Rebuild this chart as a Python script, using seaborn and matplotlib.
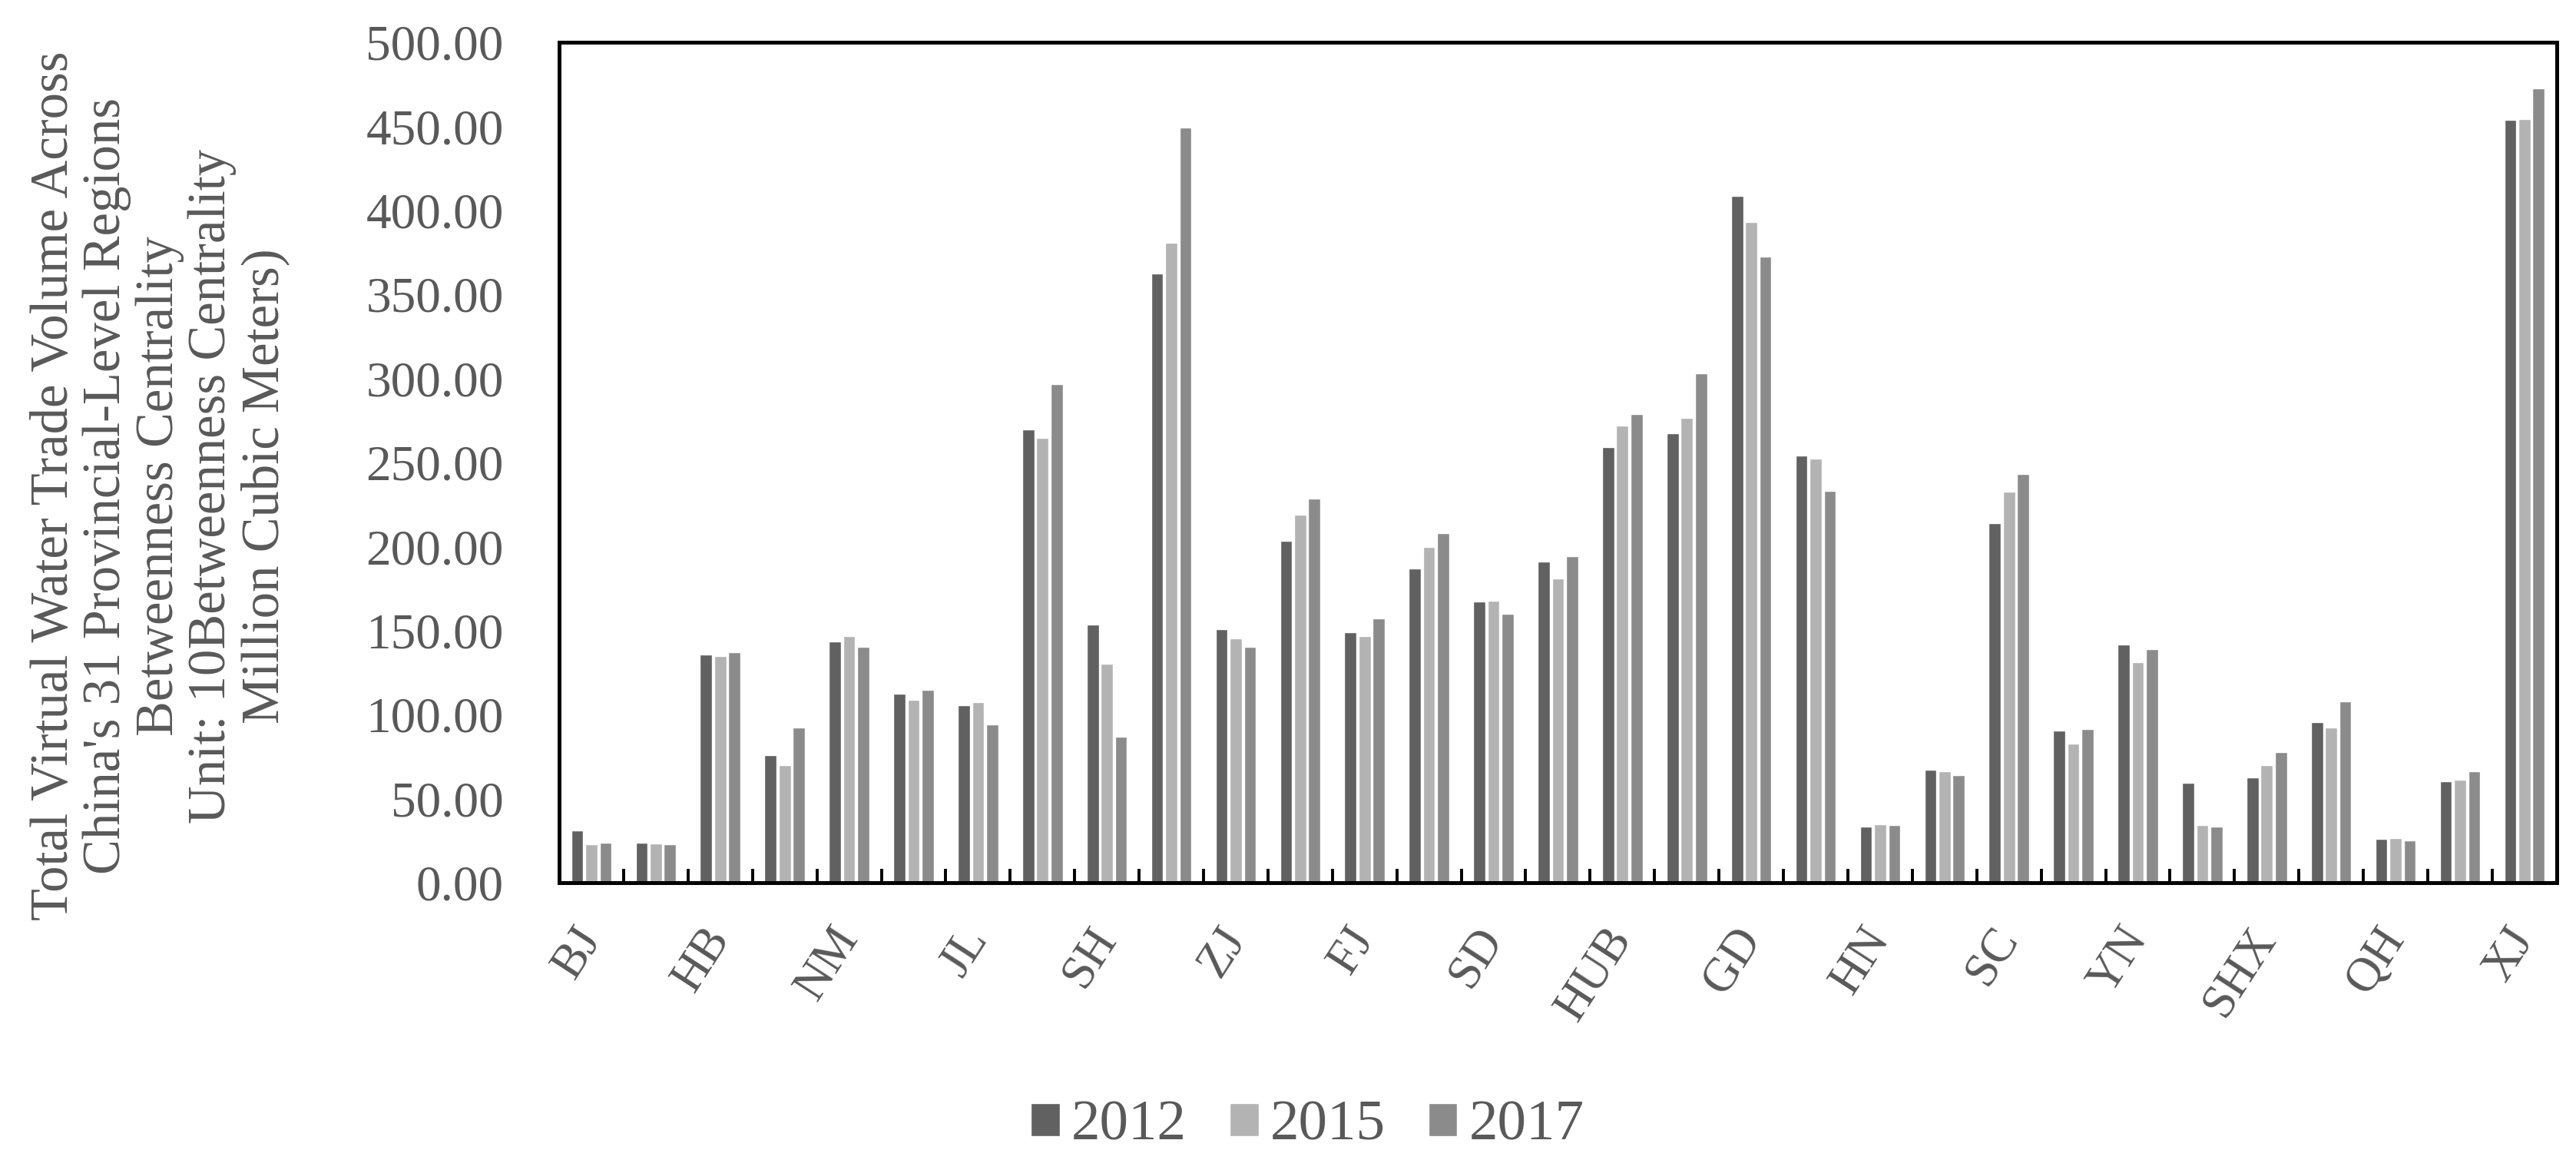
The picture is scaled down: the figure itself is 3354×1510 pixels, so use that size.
import numpy as np
import pandas as pd
import seaborn as sns
import matplotlib.pyplot as plt
from matplotlib.ticker import FixedLocator, FormatStrFormatter

# 31 provincial-level regions (only every other one is labelled on the axis)
regions = ['BJ', 'TJ', 'HB', 'SX', 'NM', 'LN', 'JL', 'HLJ', 'SH', 'JS',
           'ZJ', 'AH', 'FJ', 'JX', 'SD', 'HEN', 'HUB', 'HUN', 'GD', 'GX',
           'HN', 'CQ', 'SC', 'GZ', 'YN', 'XZ', 'SHX', 'GS', 'QH', 'NX', 'XJ']
years = ['2012', '2015', '2017']

vals_2012 = [31.2, 23.8, 135.9, 76.0, 143.6, 112.4, 105.7, 269.6, 153.4, 362.4,
             150.9, 203.4, 148.8, 187.0, 167.4, 190.8, 259.1, 267.2, 408.6, 254.2,
             33.3, 67.2, 213.9, 90.7, 141.5, 59.2, 62.7, 95.6, 25.9, 60.2, 453.8]
vals_2015 = [22.8, 23.5, 134.8, 70.0, 146.7, 108.9, 107.5, 264.4, 130.3, 380.6,
             145.3, 218.8, 146.7, 199.6, 167.7, 181.0, 271.7, 276.3, 392.9, 252.1,
             34.7, 66.2, 232.8, 82.6, 131.0, 34.3, 70.0, 92.4, 26.6, 61.3, 454.1]
vals_2017 = [23.8, 22.8, 137.3, 92.1, 140.4, 114.8, 94.2, 296.6, 86.8, 449.2,
             140.4, 228.3, 157.2, 208.0, 160.0, 194.0, 278.7, 302.9, 372.5, 233.2,
             34.3, 64.1, 243.0, 91.4, 139.0, 33.3, 77.7, 107.8, 24.9, 66.2, 472.7]

tick_labels = [r if i % 2 == 0 else '' for i, r in enumerate(regions)]
y_ticks = [0, 50, 100, 150, 200, 250, 300, 350, 400, 450, 500]

colors = ['#616161', '#b3b3b3', '#8b8b8b']
text_color = '#595959'

df = pd.DataFrame({
    'region': regions * 3,
    'year': [y for y in years for _ in regions],
    'value': vals_2012 + vals_2015 + vals_2017,
})

sns.set_style('white')
plt.rcParams['font.family'] = ['Liberation Serif', 'DejaVu Serif']

fig = plt.figure(figsize=(33.55, 15.1), dpi=100)
ax = fig.add_axes([0.2170, 0.2391, 0.7752, 0.7245])

sns.barplot(data=df, x='region', y='value', hue='year', order=regions,
            hue_order=years, palette=colors, width=0.66, gap=0.15,
            saturation=1, ax=ax)

ax.set_xlim(-0.5, len(regions) - 0.5)
ax.set_ylim(0, 500)
ax.set_xlabel('')
ax.set_ylabel('')

# y axis
ax.yaxis.set_major_locator(FixedLocator(y_ticks))
ax.yaxis.set_major_formatter(FormatStrFormatter('%.2f'))
ax.tick_params(axis='y', direction='in', length=16, width=2.4, color='black',
               labelsize=47, labelcolor=text_color, pad=52)

# x axis: labels at centres, tick marks at boundaries
ax.set_xticks(range(len(regions)))
ax.set_xticklabels(tick_labels, rotation=57, ha='right', va='center',
                   rotation_mode='anchor')
ax.tick_params(axis='x', which='major', length=0, labelsize=45,
               labelcolor=text_color, pad=46)
ax.xaxis.set_minor_locator(FixedLocator(np.arange(0.5, len(regions) - 1, 1.0)))
ax.tick_params(axis='x', which='minor', direction='in', length=13, width=2.8,
               color='black', bottom=True)

for s in ax.spines.values():
    s.set_visible(True)
    s.set_color('black')
    s.set_linewidth(3.6)

handles, labels = ax.get_legend_handles_labels()
ax.legend_.remove()
fig.legend(handles, labels, loc='center', bbox_to_anchor=(0.5074, 0.029),
           ncol=3, frameon=False, fontsize=54, labelcolor=text_color,
           handlelength=0.5, handleheight=0.5, handletextpad=0.2,
           columnspacing=0.75, borderpad=0)

ylabel = ("Total Virtual Water Trade Volume Across\n"
          "China's 31 Provincial-Level Regions\n"
          "Betweenness Centrality\n"
          "Unit: 10Betweenness Centrality\n"
          "Million Cubic Meters)")
fig.text(0.062, 0.581, ylabel, rotation=90, ha='center', va='center',
         multialignment='center', fontsize=49.5, color=text_color,
         linespacing=1.1)

fig.savefig('out.png', dpi=100)
